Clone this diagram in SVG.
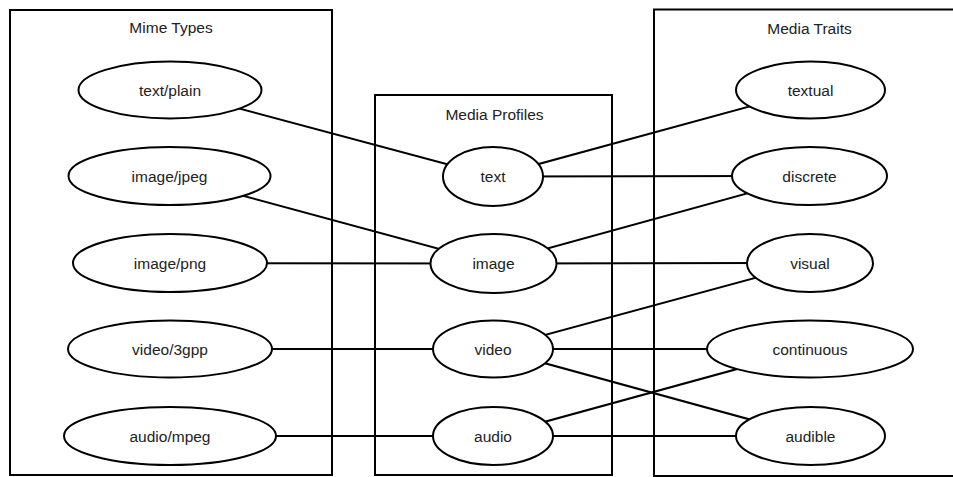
<svg xmlns="http://www.w3.org/2000/svg" width="953" height="477" viewBox="0 0 953 477">
<style>
.box{fill:none;stroke:#000;stroke-width:2}
.node ellipse{fill:#fff;stroke:#000;stroke-width:2}
text{font-family:"Liberation Sans",Arial,sans-serif;font-size:15.5px;fill:#222;text-anchor:middle}
#connectors line{stroke:#000;stroke-width:2}
</style>
<rect width="953" height="477" fill="#fff"/>
<g id="containers">
<g id="mime-types"><rect class="box" x="10" y="10" width="322" height="465"/><text x="171" y="32.5">Mime Types</text></g>
<g id="media-profiles"><rect class="box" x="375" y="95" width="237" height="380"/><text x="494.5" y="120">Media Profiles</text></g>
<g id="media-traits"><rect class="box" x="654" y="9.5" width="320" height="466.5"/><text x="809.5" y="33.5">Media Traits</text></g>
</g>
<g id="connectors">
<line x1="170" y1="90" x2="493" y2="176.5"/>
<line x1="170" y1="176" x2="493" y2="263.5"/>
<line x1="170" y1="263" x2="493" y2="263.5"/>
<line x1="170" y1="349" x2="493" y2="349"/>
<line x1="170" y1="436" x2="493" y2="436"/>
<line x1="493" y1="176.5" x2="810" y2="90"/>
<line x1="493" y1="176.5" x2="810" y2="176"/>
<line x1="493" y1="263.5" x2="810" y2="176"/>
<line x1="493" y1="263.5" x2="810" y2="263"/>
<line x1="493" y1="349" x2="810" y2="263"/>
<line x1="493" y1="349" x2="810" y2="349"/>
<line x1="493" y1="349" x2="810" y2="436"/>
<line x1="493" y1="436" x2="810" y2="349"/>
<line x1="493" y1="436" x2="810" y2="436"/>
</g>
<g id="text-plain" class="node"><ellipse cx="170" cy="90" rx="91.5" ry="28.5"/><text x="170" y="95.5">text/plain</text></g>
<g id="image-jpeg" class="node"><ellipse cx="169.5" cy="176" rx="101" ry="29"/><text x="169.5" y="181.5">image/jpeg</text></g>
<g id="image-png" class="node"><ellipse cx="170" cy="263" rx="97" ry="29"/><text x="170" y="268.5">image/png</text></g>
<g id="video-3gpp" class="node"><ellipse cx="170" cy="349" rx="102" ry="28.5"/><text x="170" y="354.5">video/3gpp</text></g>
<g id="audio-mpeg" class="node"><ellipse cx="170" cy="436" rx="106" ry="29"/><text x="170" y="441.5">audio/mpeg</text></g>
<g id="text" class="node"><ellipse cx="493" cy="176.5" rx="50" ry="29.5"/><text x="493" y="182">text</text></g>
<g id="image" class="node"><ellipse cx="493.5" cy="263.5" rx="63" ry="29.5"/><text x="493.5" y="269">image</text></g>
<g id="video" class="node"><ellipse cx="493" cy="349" rx="60" ry="28.5"/><text x="493" y="354.5">video</text></g>
<g id="audio" class="node"><ellipse cx="493" cy="436" rx="60" ry="29"/><text x="493" y="441.5">audio</text></g>
<g id="textual" class="node"><ellipse cx="810.5" cy="90" rx="74.5" ry="28.5"/><text x="810.5" y="95.5">textual</text></g>
<g id="discrete" class="node"><ellipse cx="809.5" cy="176" rx="77.5" ry="29"/><text x="809.5" y="181.5">discrete</text></g>
<g id="visual" class="node"><ellipse cx="810" cy="263" rx="63" ry="29"/><text x="810" y="268.5">visual</text></g>
<g id="continuous" class="node"><ellipse cx="810" cy="349" rx="103" ry="28.5"/><text x="810" y="354.5">continuous</text></g>
<g id="audible" class="node"><ellipse cx="810.5" cy="436" rx="74.5" ry="29"/><text x="810.5" y="441.5">audible</text></g>
</svg>
